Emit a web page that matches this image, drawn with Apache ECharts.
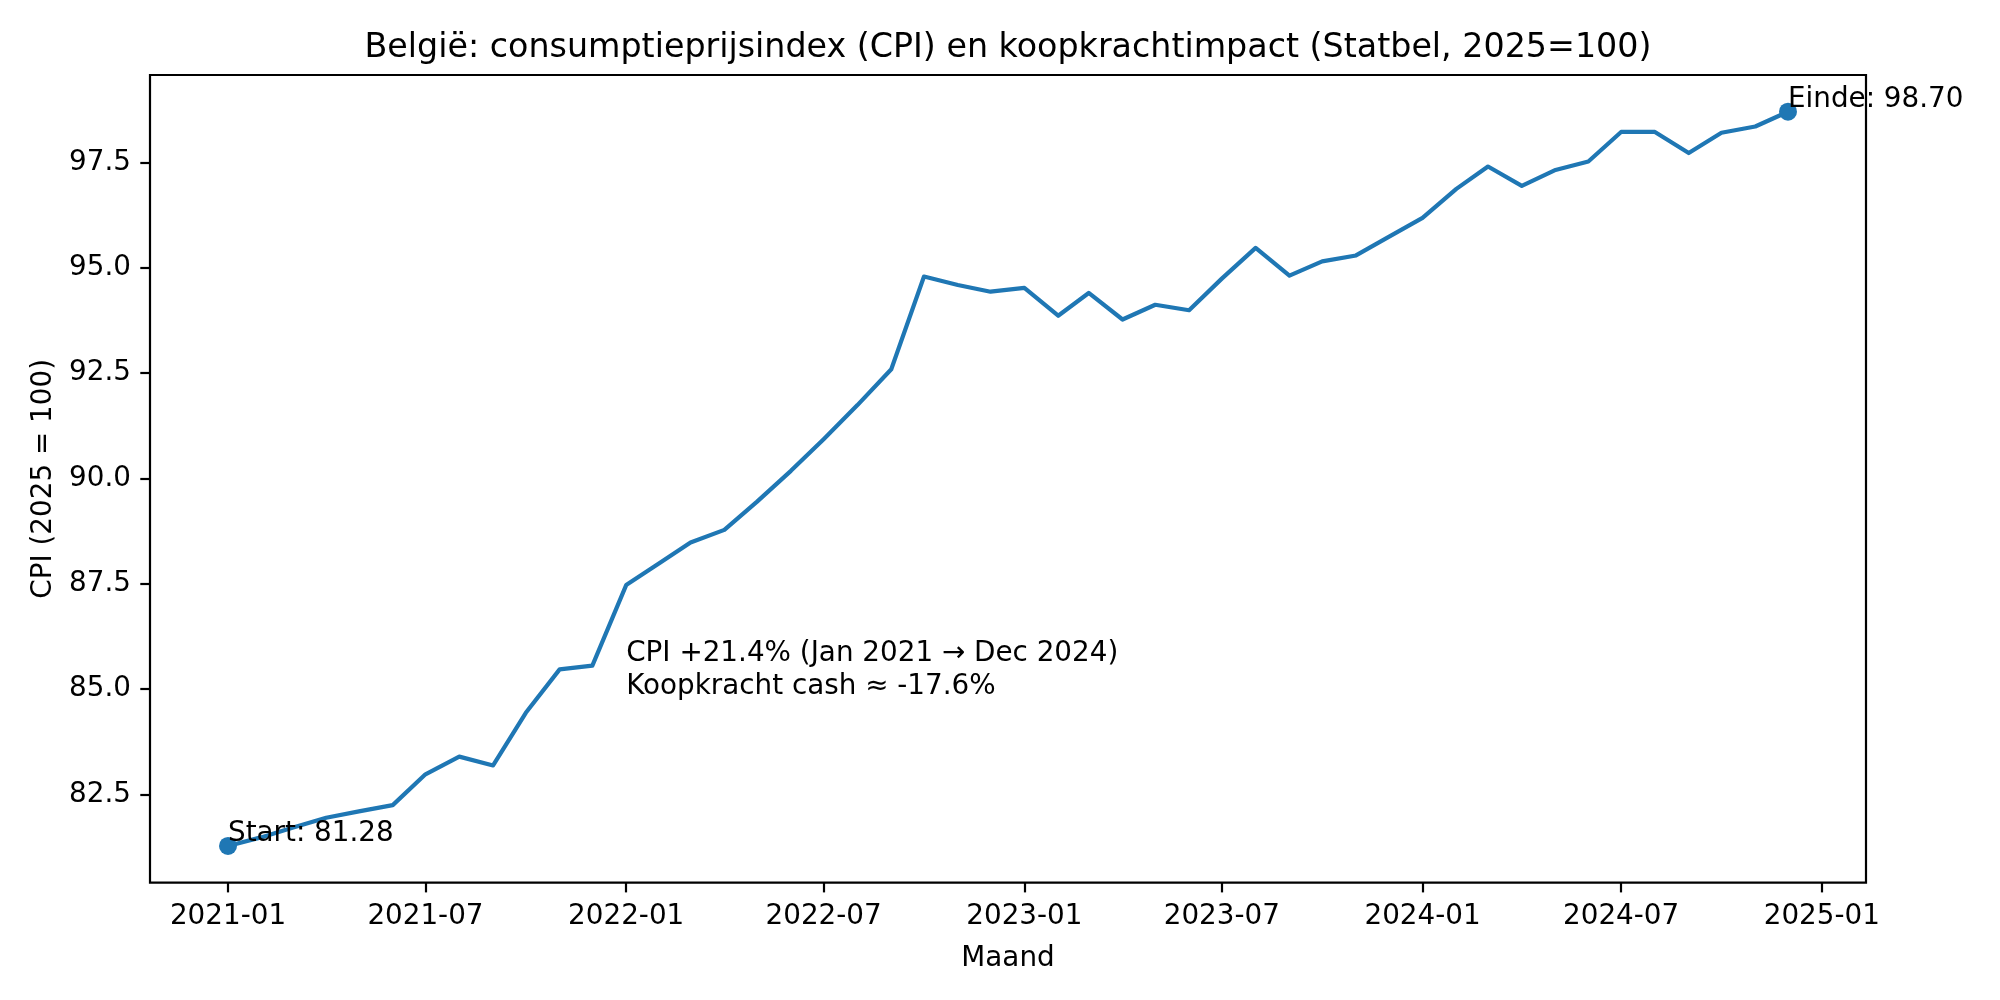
<!DOCTYPE html>
<html><head><meta charset="utf-8">
<script src="https://cdn.jsdelivr.net/npm/echarts@6/dist/echarts.min.js"></script>
<style>html,body{margin:0;padding:0;background:#fff}#c{width:2000px;height:1000px}</style>
</head><body><div id="c"></div>
<script>
// ---- data ----
const months = [
  '2021-01','2021-02','2021-03','2021-04','2021-05','2021-06','2021-07','2021-08','2021-09','2021-10','2021-11','2021-12',
  '2022-01','2022-02','2022-03','2022-04','2022-05','2022-06','2022-07','2022-08','2022-09','2022-10','2022-11','2022-12',
  '2023-01','2023-02','2023-03','2023-04','2023-05','2023-06','2023-07','2023-08','2023-09','2023-10','2023-11','2023-12',
  '2024-01','2024-02','2024-03','2024-04','2024-05','2024-06','2024-07','2024-08','2024-09','2024-10','2024-11','2024-12'
];
const cpi = [
  81.28, 81.49, 81.71, 81.95, 82.10, 82.25, 82.98, 83.40, 83.19, 84.44, 85.47, 85.56,
  87.47, 88.00, 88.48, 88.78, 89.45, 90.18, 90.93, 91.74, 92.59, 94.79, 94.59, 94.43,
  94.52, 93.86, 94.40, 93.77, 94.12, 93.99, 94.74, 95.47, 94.81, 95.15, 95.29, 95.73,
  96.18, 96.87, 97.40, 96.94, 97.31, 97.52, 98.22, 98.22, 97.72, 98.20, 98.35, 98.70
];
const xTickLabels = ['2021-01','2021-07','2022-01','2022-07','2023-01','2023-07','2024-01','2024-07','2025-01'];
const yTicks = [82.5, 85.0, 87.5, 90.0, 92.5, 95.0, 97.5];
const annotationAt = ['2022-01', 84.66];

// ---- helpers ----
function ts(s){ const p = s.split('-').map(Number); return Date.UTC(p[0], p[1]-1, 1); }
function fmtMonth(v){ const d = new Date(v); return d.getUTCFullYear() + '-' + String(d.getUTCMonth()+1).padStart(2,'0'); }

const points = months.map((m,i) => [ts(m), cpi[i]]);
const x0 = points[0][0], x1 = points[points.length-1][0];
const xMargin = 0.05 * (x1 - x0);
const yMin = Math.min(...cpi), yMax = Math.max(...cpi);
const yMargin = 0.05 * (yMax - yMin);
const first = cpi[0], last = cpi[cpi.length-1];
const cpiChange = ((last/first - 1)*100).toFixed(1);
const kkChange = ((first/last - 1)*100).toFixed(1);

const FONT = 'DejaVu Sans';
const FS = 27.8;
const BLUE = '#1f77b4';

const chart = echarts.init(document.getElementById('c'), null, {renderer:'canvas'});
chart.setOption({
  animation: false,
  backgroundColor: '#fff',
  textStyle: { fontFamily: FONT, color: '#000' },
  title: {
    text: 'België: consumptieprijsindex (CPI) en koopkrachtimpact (Statbel, 2025=100)',
    left: 1008, top: 31.7, textAlign: 'center', padding: 0,
    textStyle: { fontFamily: FONT, fontSize: 33.3, fontWeight: 'normal', color: '#000', lineHeight: 33.3 }
  },
  grid: {
    left: 150, right: 134, top: 75, bottom: 117.3,
    containLabel: false, outerBoundsMode: 'none',
    show: true, borderColor: '#000', borderWidth: 2.2, backgroundColor: 'transparent'
  },
  xAxis: {
    type: 'value',
    min: x0 - xMargin, max: x1 + xMargin,
    name: 'Maand', nameLocation: 'middle', nameGap: 62,
    nameTextStyle: { fontFamily: FONT, fontSize: FS, color: '#000', lineHeight: FS },
    axisLine: { show: false },
    axisTick: { show: true, inside: false, length: 9.7, lineStyle: { color: '#000', width: 2.2 }, customValues: xTickLabels.map(ts) },
    axisLabel: { show: true, margin: 20, fontFamily: FONT, fontSize: FS, color: '#000', lineHeight: FS,
      customValues: xTickLabels.map(ts), formatter: v => fmtMonth(v), hideOverlap: false },
    splitLine: { show: false }, minorTick: { show: false }
  },
  yAxis: {
    type: 'value', scale: true,
    min: yMin - yMargin, max: yMax + yMargin,
    name: 'CPI (2025 = 100)', nameLocation: 'middle', nameGap: 90, nameRotate: 90,
    nameTextStyle: { fontFamily: FONT, fontSize: FS, color: '#000', lineHeight: FS },
    axisLine: { show: false },
    axisTick: { show: true, inside: false, length: 9.7, lineStyle: { color: '#000', width: 2.2 }, customValues: yTicks },
    axisLabel: { show: true, margin: 19, fontFamily: FONT, fontSize: FS, color: '#000',
      customValues: yTicks, formatter: v => Number(v).toFixed(1) },
    splitLine: { show: false }
  },
  series: [
    {
      type: 'line', data: points, symbol: 'none', smooth: false,
      lineStyle: { color: BLUE, width: 4.2, cap: 'butt', join: 'round' },
      z: 2
    },
    {
      type: 'scatter', symbol: 'circle', symbolSize: 18,
      itemStyle: { color: BLUE, opacity: 1 },
      emphasis: { disabled: true },
      data: [
        { value: points[0], label: { formatter: 'Start: ' + first.toFixed(2) } },
        { value: points[points.length-1], label: { formatter: 'Einde: ' + last.toFixed(2) } }
      ],
      label: { show: true, position: 'inside', align: 'left', verticalAlign: 'bottom', offset: [0, 2],
        fontFamily: FONT, fontSize: FS, color: '#000', opacity: 1, lineHeight: FS },
      z: 3
    },
    {
      type: 'scatter', symbol: 'circle', symbolSize: 0, silent: true,
      itemStyle: { opacity: 1 },
      data: [[ts(annotationAt[0]), annotationAt[1]]],
      label: { show: true, position: 'inside', align: 'left', verticalAlign: 'bottom',
        formatter: 'CPI +' + cpiChange + '% (Jan 2021 \u2192 Dec 2024)\nKoopkracht cash \u2248 ' + kkChange + '%',
        fontFamily: FONT, fontSize: FS, color: '#000', opacity: 1, lineHeight: 33 },
      z: 4
    }
  ]
});
</script></body></html>
